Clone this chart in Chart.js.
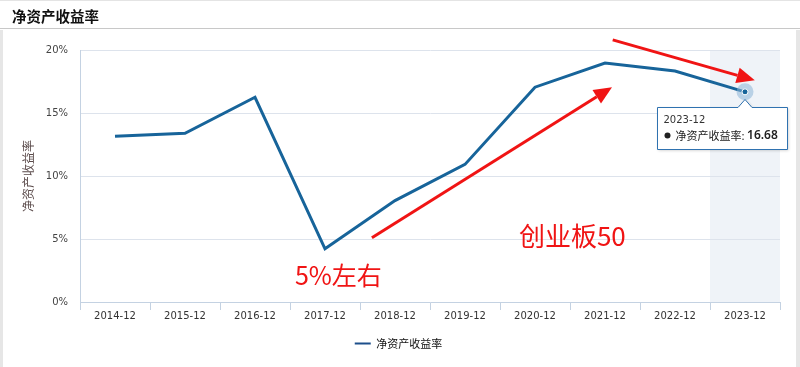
<!DOCTYPE html>
<html>
<head>
<meta charset="utf-8">
<script src="https://cdn.jsdelivr.net/npm/chart.js@4"></script>
<style>
  html, body { margin: 0; padding: 0; background: #fff; }
  #wrap { position: relative; width: 800px; height: 367px; overflow: hidden; }
  #head { position: absolute; left: 0; top: 0; width: 800px; height: 29px; border-top: 1px solid #e4e4e4; border-bottom: 1px solid #c8c8c8; box-sizing: border-box; }
  #head span { position: absolute; left: 12px; top: 4px; font: bold 14.5px "Noto Sans CJK SC", sans-serif; color: #111; }
  #sideL { position: absolute; left: 0; top: 30px; width: 3px; height: 337px; background: #e6e6e6; }
  #sideR { position: absolute; right: 0; top: 30px; width: 4px; height: 337px; background: #e6e6e6; }
  canvas { position: absolute; left: 0; top: 0; }
</style>
</head>
<body>
<div id="wrap">
  <canvas id="roeChart" width="800" height="367"></canvas>
  <div id="head"><span>净资产收益率</span></div>
  <div id="sideL"></div>
  <div id="sideR"></div>
</div>
<script>
// 数据
const categories = ['2014-12', '2015-12', '2016-12', '2017-12', '2018-12', '2019-12', '2020-12', '2021-12', '2022-12', '2023-12'];
const roeValues = [13.15, 13.39, 16.25, 4.22, 8.05, 10.92, 17.05, 18.96, 18.33, 16.68];
const seriesName = '净资产收益率';
const yTickValues = [0, 5, 10, 15, 20];
const activeIndex = 9;

// 手绘的红色标注 (x: 类别序号, y: 百分比)
const arrows = [
    { from: [3.67, 5.1], to: [7.1, 17.05] },
    { from: [7.11, 20.8], to: [9.14, 17.6] }
];
const notes = [
    { text: '5%左右', at: [2.57, 2.07], size: 25 },
    { text: '创业板50', at: [5.77, 5.26], size: 26 }
];

const LINE = '#17649a';
const RED = '#f01414';

function drawArrow(ctx, x1, y1, x2, y2) {
    const a = Math.atan2(y2 - y1, x2 - x1);
    const head = 18, w = 8;
    const bx = x2 - head * Math.cos(a), by = y2 - head * Math.sin(a);
    ctx.beginPath();
    ctx.moveTo(x1, y1);
    ctx.lineTo(bx, by);
    ctx.stroke();
    ctx.beginPath();
    ctx.moveTo(x2, y2);
    ctx.lineTo(bx + w * Math.sin(a), by - w * Math.cos(a));
    ctx.lineTo(bx - w * Math.sin(a), by + w * Math.cos(a));
    ctx.closePath();
    ctx.fill();
}

const overlay = {
    id: 'overlay',
    beforeDraw(chart) {
        // 当前选中列的背景
        const { ctx, chartArea, scales: { x } } = chart;
        const half = (x.getPixelForValue(1) - x.getPixelForValue(0)) / 2;
        const cx = x.getPixelForValue(activeIndex);
        ctx.save();
        ctx.fillStyle = '#eff3f8';
        ctx.fillRect(cx - half, chartArea.top, half * 2, chartArea.bottom - chartArea.top);
        ctx.restore();
    },
    afterDatasetsDraw(chart) {
        const pt = chart.getDatasetMeta(0).data[activeIndex];
        const ctx = chart.ctx;
        ctx.save();
        ctx.fillStyle = 'rgba(140,180,215,0.55)';
        ctx.beginPath(); ctx.arc(pt.x, pt.y, 8.5, 0, Math.PI * 2); ctx.fill();
        ctx.fillStyle = LINE;
        ctx.strokeStyle = '#fff';
        ctx.lineWidth = 1;
        ctx.beginPath(); ctx.arc(pt.x, pt.y, 3, 0, Math.PI * 2); ctx.fill(); ctx.stroke();
        ctx.restore();
    },
    afterDraw(chart) {
        const { ctx, scales: { x, y } } = chart;
        const px = p => [x.getPixelForValue(p[0]), y.getPixelForValue(p[1])];
        ctx.save();
        ctx.strokeStyle = RED;
        ctx.fillStyle = RED;
        ctx.lineWidth = 3;
        arrows.forEach(a => {
            const [x1, y1] = px(a.from), [x2, y2] = px(a.to);
            drawArrow(ctx, x1, y1, x2, y2);
        });
        ctx.textBaseline = 'middle';
        ctx.textAlign = 'left';
        notes.forEach(n => {
            const [tx, ty] = px(n.at);
            ctx.font = n.size + 'px "Noto Sans CJK SC", sans-serif';
            ctx.fillText(n.text, tx, ty);
        });

        // 提示框
        const pt = chart.getDatasetMeta(0).data[activeIndex];
        const bw = 130, bh = 42;
        const bx = Math.round(pt.x - 88) + 0.5, by = Math.round(pt.y + 15) + 0.5;
        ctx.shadowColor = 'rgba(0,0,0,0.2)';
        ctx.shadowBlur = 3;
        ctx.shadowOffsetX = 1;
        ctx.shadowOffsetY = 1;
        ctx.fillStyle = '#fff';
        ctx.strokeStyle = '#2f72b0';
        ctx.lineWidth = 1;
        ctx.beginPath();
        ctx.moveTo(bx, by);
        ctx.lineTo(pt.x - 7, by);
        ctx.lineTo(pt.x, by - 8);
        ctx.lineTo(pt.x + 7, by);
        ctx.lineTo(bx + bw, by);
        ctx.lineTo(bx + bw, by + bh);
        ctx.lineTo(bx, by + bh);
        ctx.closePath();
        ctx.fill();
        ctx.shadowColor = 'transparent';
        ctx.stroke();

        ctx.fillStyle = '#333';
        ctx.font = '10px "DejaVu Sans", sans-serif';
        ctx.fillText(categories[activeIndex], bx + 6, by + 13);
        ctx.fillStyle = '#222';
        ctx.beginPath(); ctx.arc(bx + 10, by + 28, 3, 0, Math.PI * 2); ctx.fill();
        ctx.font = '11px "Noto Sans CJK SC", sans-serif';
        const label = seriesName + ': ';
        ctx.fillText(label, bx + 18, by + 28);
        const lw = ctx.measureText(label).width;
        ctx.font = '600 12px "Noto Sans", sans-serif';
        ctx.fillText(roeValues[activeIndex].toFixed(2), bx + 18 + lw, by + 28);
        ctx.restore();
    }
};

const ctx = document.getElementById('roeChart');
new Chart(ctx, {
    type: 'line',
    data: {
        labels: categories,
        datasets: [{
            label: seriesName,
            data: roeValues,
            borderColor: LINE,
            backgroundColor: '#1d4f8b',
            borderWidth: 3,
            pointRadius: 0,
            pointHoverRadius: 0,
            tension: 0,
            fill: false
        }]
    },
    options: {
        responsive: false,
        animation: false,
        events: [],
        layout: { padding: { top: 50, left: 17, right: 20, bottom: 8 } },
        scales: {
            x: {
                offset: true,
                grid: { drawOnChartArea: false, drawTicks: true, tickLength: 8, color: '#c4d2e2', offset: true },
                border: { color: '#c4d2e2', width: 1 },
                ticks: { color: '#333', padding: 0, font: { family: 'DejaVu Sans', size: 10 }, maxRotation: 0, autoSkip: false }
            },
            y: {
                min: 0,
                max: 20,
                afterFit(scale) { scale.width = 63; },
                afterBuildTicks(scale) { scale.ticks = yTickValues.map(v => ({ value: v })); },
                grid: { color: '#dde3ec', drawTicks: false },
                border: { color: '#c4d2e2', width: 1 },
                ticks: { color: '#444', padding: 12, font: { family: 'DejaVu Sans', size: 10 }, callback: v => v + '%' },
                title: { display: true, text: seriesName, color: '#5a4a4a', font: { family: 'Noto Sans CJK SC', size: 12 }, padding: { top: 4, bottom: 4 } }
            }
        },
        plugins: {
            tooltip: { enabled: false },
            legend: {
                position: 'bottom',
                labels: {
                    usePointStyle: true,
                    pointStyle: 'line',
                    pointStyleWidth: 16,
                    padding: 16,
                    color: '#111',
                    font: { family: 'Noto Sans CJK SC', size: 11 },
                    generateLabels(chart) {
                        const items = Chart.defaults.plugins.legend.labels.generateLabels(chart);
                        items.forEach(it => { it.lineWidth = 2; it.strokeStyle = '#1d4f8b'; });
                        return items;
                    }
                }
            }
        }
    },
    plugins: [overlay]
});
</script>
</body>
</html>
